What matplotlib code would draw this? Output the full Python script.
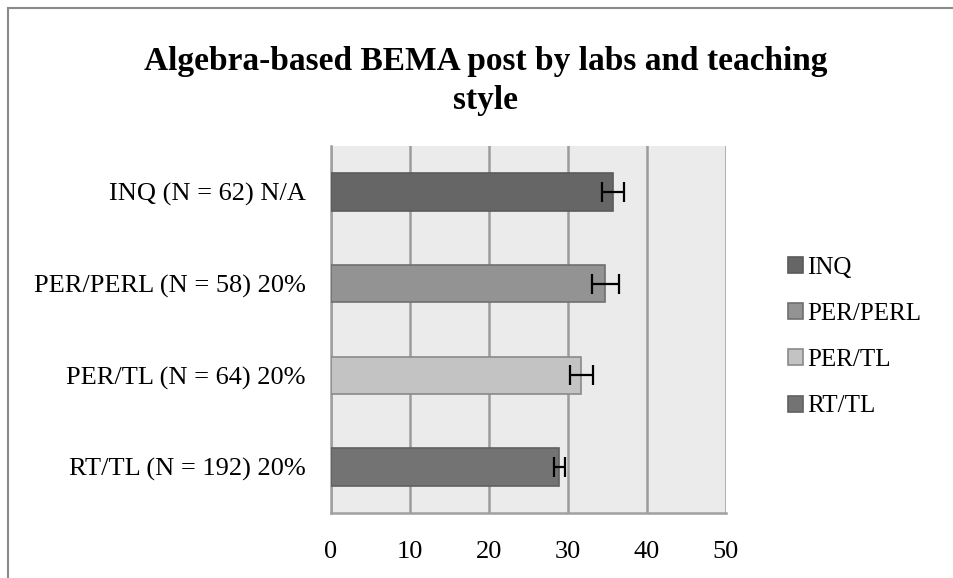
import matplotlib
matplotlib.use("Agg")
import matplotlib.pyplot as plt
from matplotlib.patches import Rectangle, Patch

categories = ["INQ (N = 62) N/A", "PER/PERL (N = 58) 20%", "PER/TL (N = 64) 20%", "RT/TL (N = 192) 20%"]
series = ["INQ", "PER/PERL", "PER/TL", "RT/TL"]
values = [35.7, 34.7, 31.7, 28.9]
errors = [1.4, 1.7, 1.5, 0.7]
colors = ["#666666", "#939393", "#c3c3c3", "#737373"]
edges = ["#5a5a5a", "#707070", "#8a8a8a", "#606060"]
xticks = [0, 10, 20, 30, 40, 50]

plt.rcParams['font.family'] = ['Liberation Serif', 'DejaVu Serif']

fig = plt.figure(figsize=(9.54, 5.78), dpi=100)
W, H = 954, 578
ax = fig.add_axes([331 / W, 1 - 513 / H, (726 - 331) / W, (513 - 146) / H])
ax.set_facecolor("#ebebeb")

ypos = list(range(len(categories)))[::-1]
for y, v, e, c, ec in zip(ypos, values, errors, colors, edges):
    ax.barh(y, v, height=0.41, color=c, edgecolor=ec, linewidth=1.2, zorder=3)
    ax.errorbar(v, y, xerr=e, fmt="none", ecolor="black", elinewidth=1.6, capsize=7, capthick=1.6, zorder=4)

ax.set_xlim(0, 50)
ax.set_ylim(-0.5, 3.5)
ax.set_xticks(xticks)
ax.set_xticklabels([str(t) for t in xticks], fontsize=19)
ax.set_yticks(ypos)
ax.set_yticklabels(categories, fontsize=19)
ax.tick_params(axis="both", length=0)
ax.tick_params(axis="y", pad=18)
ax.tick_params(axis="x", pad=20)
ax.grid(axis="x", color="#9c9c9c", linewidth=1.8, zorder=1)
for s in ["top", "right"]:
    ax.spines[s].set_visible(False)
for s in ["left", "bottom"]:
    ax.spines[s].set_color("#a0a0a0")
    ax.spines[s].set_linewidth(1.8)

handles = [Patch(facecolor=c, edgecolor=ec, linewidth=1.2) for c, ec in zip(colors, edges)]
leg = fig.legend(handles, series, loc="center left", bbox_to_anchor=(765 / W, 1 - 337 / H),
                 frameon=False, fontsize=18, handlelength=0.6, handleheight=0.6,
                 handletextpad=0.2, labelspacing=0.97)

fig.text(486 / W, 1 - 81 / H, "Algebra-based BEMA post by labs and teaching\nstyle",
         ha="center", va="center", fontsize=24, fontweight="bold", linespacing=1.3)

fig.patches.append(Rectangle((8 / W, -0.1), 1.2, 1 - 8 / H + 0.1, transform=fig.transFigure,
                             fill=False, edgecolor="#8a8a8a", linewidth=1.5))

fig.savefig("out.png", dpi=100, facecolor="white")
